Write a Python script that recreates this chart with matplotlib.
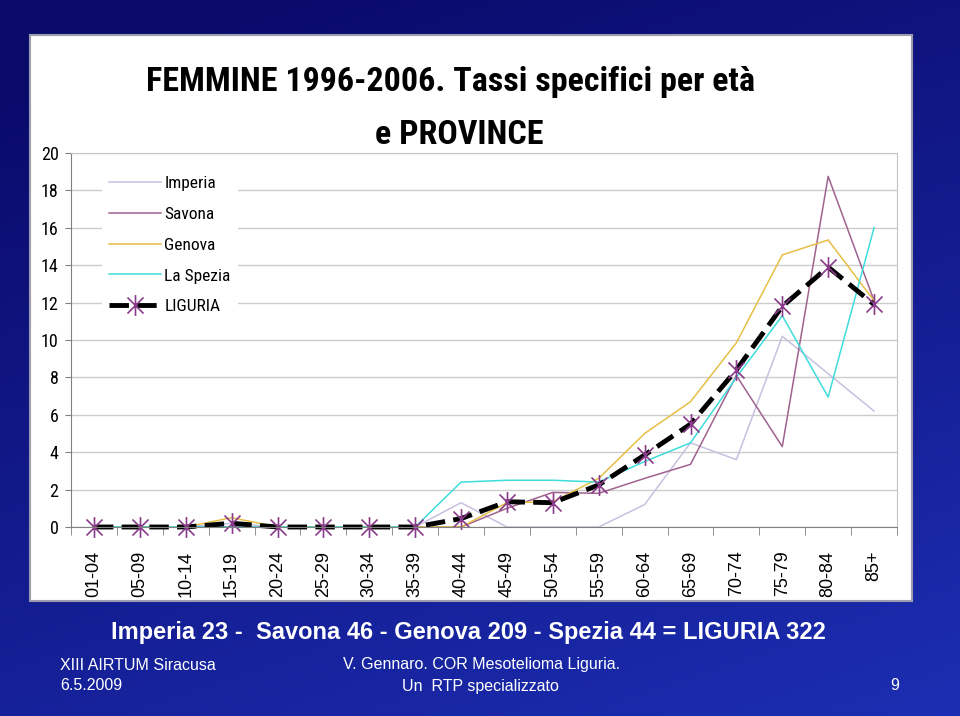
import numpy as np
import matplotlib
matplotlib.use("Agg")
import matplotlib.pyplot as plt
from matplotlib.path import Path
from matplotlib.patches import Rectangle

# age classes and specific rates (per 100 000)
ages = ["01-04", "05-09", "10-14", "15-19", "20-24", "25-29", "30-34", "35-39", "40-44",
        "45-49", "50-54", "55-59", "60-64", "65-69", "70-74", "75-79", "80-84", "85+"]
imperia = [0, 0, 0, 0.2, 0, 0, 0, 0, 1.3, 0, 0, 0, 1.2, 4.5, 3.6, 10.2, 8.2, 6.2]
savona = [0, 0, 0, 0, 0, 0, 0, 0, 0, 1.0, 1.85, 1.8, 2.6, 3.35, 8.1, 4.3, 18.75, 12.1]
genova = [0, 0, 0, 0.5, 0, 0, 0, 0, 0, 1.3, 1.35, 2.6, 5.0, 6.7, 9.85, 14.55, 15.35, 12.1]
spezia = [0, 0, 0, 0, 0, 0, 0, 0, 2.4, 2.5, 2.5, 2.4, 3.5, 4.5, 8.0, 11.3, 6.95, 16.0]
liguria = [0, 0, 0, 0.2, 0, 0, 0, 0, 0.45, 1.35, 1.3, 2.25, 3.85, 5.5, 8.4, 11.8, 13.9, 11.9]

NARROW = ["Roboto Condensed", "DejaVu Sans"]
ARIAL = ["Liberation Sans", "DejaVu Sans"]
W, H = 960, 716

fig = plt.figure(figsize=(9.6, 7.16), dpi=100)

# slide background: dark navy to blue
bg = fig.add_axes([0, 0, 1, 1]); bg.axis("off")
yy, xx = np.mgrid[0:1:200j, 0:1:260j]
t = np.clip(0.75 * yy + 0.35 * xx - 0.1, 0, 1)[..., None]
dark, light = np.array([0.04, 0.04, 0.42]), np.array([0.11, 0.18, 0.70])
bg.imshow(dark * (1 - t) + light * t, extent=(0, 1, 0, 1), aspect="auto", origin="upper")
bg.set_xlim(0, 1); bg.set_ylim(0, 1)
bg.add_patch(Rectangle((30 / W, 1 - 601 / H), 882 / W, 566 / H, facecolor="white",
                       edgecolor="#9c9cae", lw=1.5))

star = Path([(-1, -1), (1, 1), (-1, 1), (1, -1), (0, -1.3), (0, 1.3)],
            [Path.MOVETO, Path.LINETO] * 3)

ax = fig.add_axes([71 / W, 1 - 527 / H, 826 / W, 374 / H])
ax.set_facecolor("none")
x = np.arange(len(ages))
ax.plot(x, imperia, color="#c8c0e0", lw=1.1, label="Imperia")
ax.plot(x, savona, color="#a0628e", lw=1.1, label="Savona")
ax.plot(x, genova, color="#e6bf45", lw=1.1, label="Genova")
ax.plot(x, spezia, color="#3fdcdc", lw=1.1, label="La Spezia")
ax.plot(x, liguria, color="black", lw=3.5, dashes=(4, 1.7), marker=star, ms=15,
        mec="#8a3a8a", mfc="none", mew=1.2, label="LIGURIA", clip_on=False)

ax.set_xlim(-0.5, 17.5); ax.set_ylim(0, 20)
ax.set_yticks(range(0, 21, 2))
ax.set_xticks(x)
ax.set_xticklabels(ages, rotation=90, fontsize=13, family=ARIAL)
ax.set_xticks(np.arange(-0.5, 18, 1), minor=True)
ax.tick_params(axis="x", which="major", length=0, pad=17)
ax.tick_params(axis="x", which="minor", length=6, color="#808080")
ax.tick_params(axis="y", length=4, color="#808080", pad=5, labelsize=13)
for lab in ax.get_yticklabels():
    lab.set_family(NARROW)
ax.grid(axis="y", color="#cccccc", lw=1); ax.set_axisbelow(True)
for s in ("left", "bottom"): ax.spines[s].set_color("#808080")
for s in ("top", "right"): ax.spines[s].set_color("#c4c4c4")

leg = ax.legend(loc="upper left", bbox_to_anchor=(0.0375, 0.957), prop={"family": NARROW, "size": 12.5},
                handlelength=3.0, handletextpad=0.2, labelspacing=0.9, borderpad=0.4,
                borderaxespad=0, fancybox=False, framealpha=1)
leg.get_frame().set_edgecolor("none")

fig.text(450 / W, 1 - 82 / H, "FEMMINE 1996-2006. Tassi specifici per età", ha="center", va="center",
         fontsize=24.5, weight="bold", family=NARROW)
fig.text(459 / W, 1 - 135 / H, "e PROVINCE", ha="center", va="center", fontsize=24.5, weight="bold", family=NARROW)

fig.text(468 / W, 1 - 632 / H, "Imperia 23 -  Savona 46 - Genova 209 - Spezia 44 = LIGURIA 322",
         ha="center", va="center", fontsize=17, weight="bold", color="white", family=ARIAL)
foot = dict(va="center", fontsize=11.5, color="white", family=ARIAL)
fig.text(60 / W, 1 - 665 / H, "XIII AIRTUM Siracusa", ha="left", **foot)
fig.text(60 / W, 1 - 686 / H, "6.5.2009", ha="left", **foot)
fig.text(343 / W, 1 - 665 / H, "V. Gennaro. COR Mesotelioma Liguria.", ha="left", **foot)
fig.text(480 / W, 1 - 686 / H, "Un  RTP specializzato", ha="center", **foot)
fig.text(895 / W, 1 - 686 / H, "9", ha="center", **foot)

fig.savefig("out.png", dpi=100)
plt.close(fig)
